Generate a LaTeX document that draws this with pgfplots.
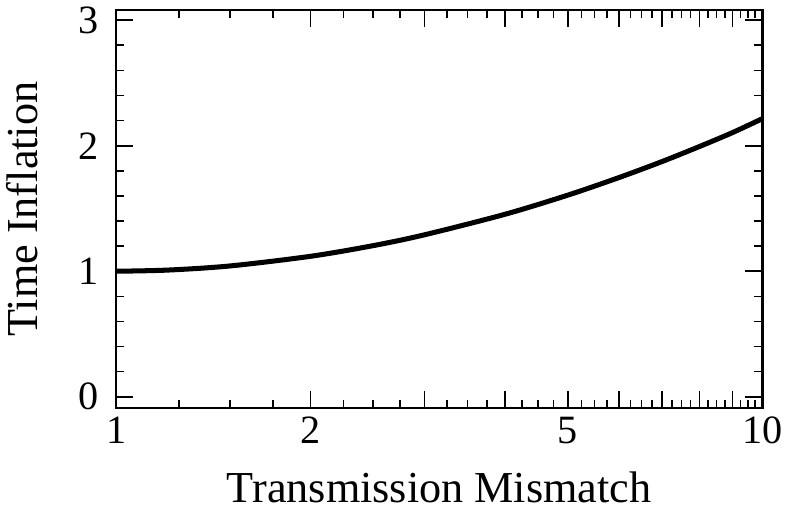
\documentclass[border=0pt]{standalone}
\usepackage{fontspec}
\setmainfont{Liberation Serif}
\usepackage{pgfplots}
\pgfplotsset{compat=1.18}
\begin{document}
\begin{tikzpicture}
\begin{axis}[
  scale only axis,
  width=321.5pt, height=198pt,
  xmode=log, log basis x=10,
  xmin=1, xmax=10, ymin=-0.09, ymax=3.08,
  xtick={1,2,3,4,5,6,7,8,9,10},
  xticklabels={1,2,,,5,,,,,10},
  minor xtick={1.25,1.5,1.75,2.25,2.5,2.75,3.25,3.5,3.75,4.25,4.5,4.75,5.25,5.5,5.75,6.25,6.5,6.75,7.25,7.5,7.75,8.25,8.5,8.75,9.25,9.5,9.75},
  ytick={0,1,2,3},
  minor ytick={0.2,0.4,0.6,0.8,1.2,1.4,1.6,1.8,2.2,2.4,2.6,2.8},
  tick align=inside,
  major tick length=8.5pt, minor tick length=4pt,
  every tick/.style={black, line width=0.8pt},
  axis line style={line width=1.3pt},
  /pgf/number format/assume math mode=true,
  ticklabel style={font=\fontsize{20}{22}\selectfont},
  yticklabel style={xshift=-5pt},
  xticklabel style={yshift=-1pt},
  label style={font=\fontsize{22}{25}\selectfont},
  xlabel={Transmission Mismatch},
  ylabel={Time Inflation},
  xlabel style={at={(axis description cs:0.5,-0.2)}, anchor=center},
  ylabel style={at={(axis description cs:-0.145,0.5)}, anchor=center},
]
\addplot[black, line width=2.5pt, smooth] coordinates {
  (1,1.000) (1.2,1.009) (1.5,1.042) (2,1.119) (2.5,1.204) (3,1.290)
  (4,1.454) (5,1.606) (6,1.746) (7,1.874) (8,1.994) (9,2.105) (10,2.215)
};
\end{axis}
\end{tikzpicture}
\end{document}
